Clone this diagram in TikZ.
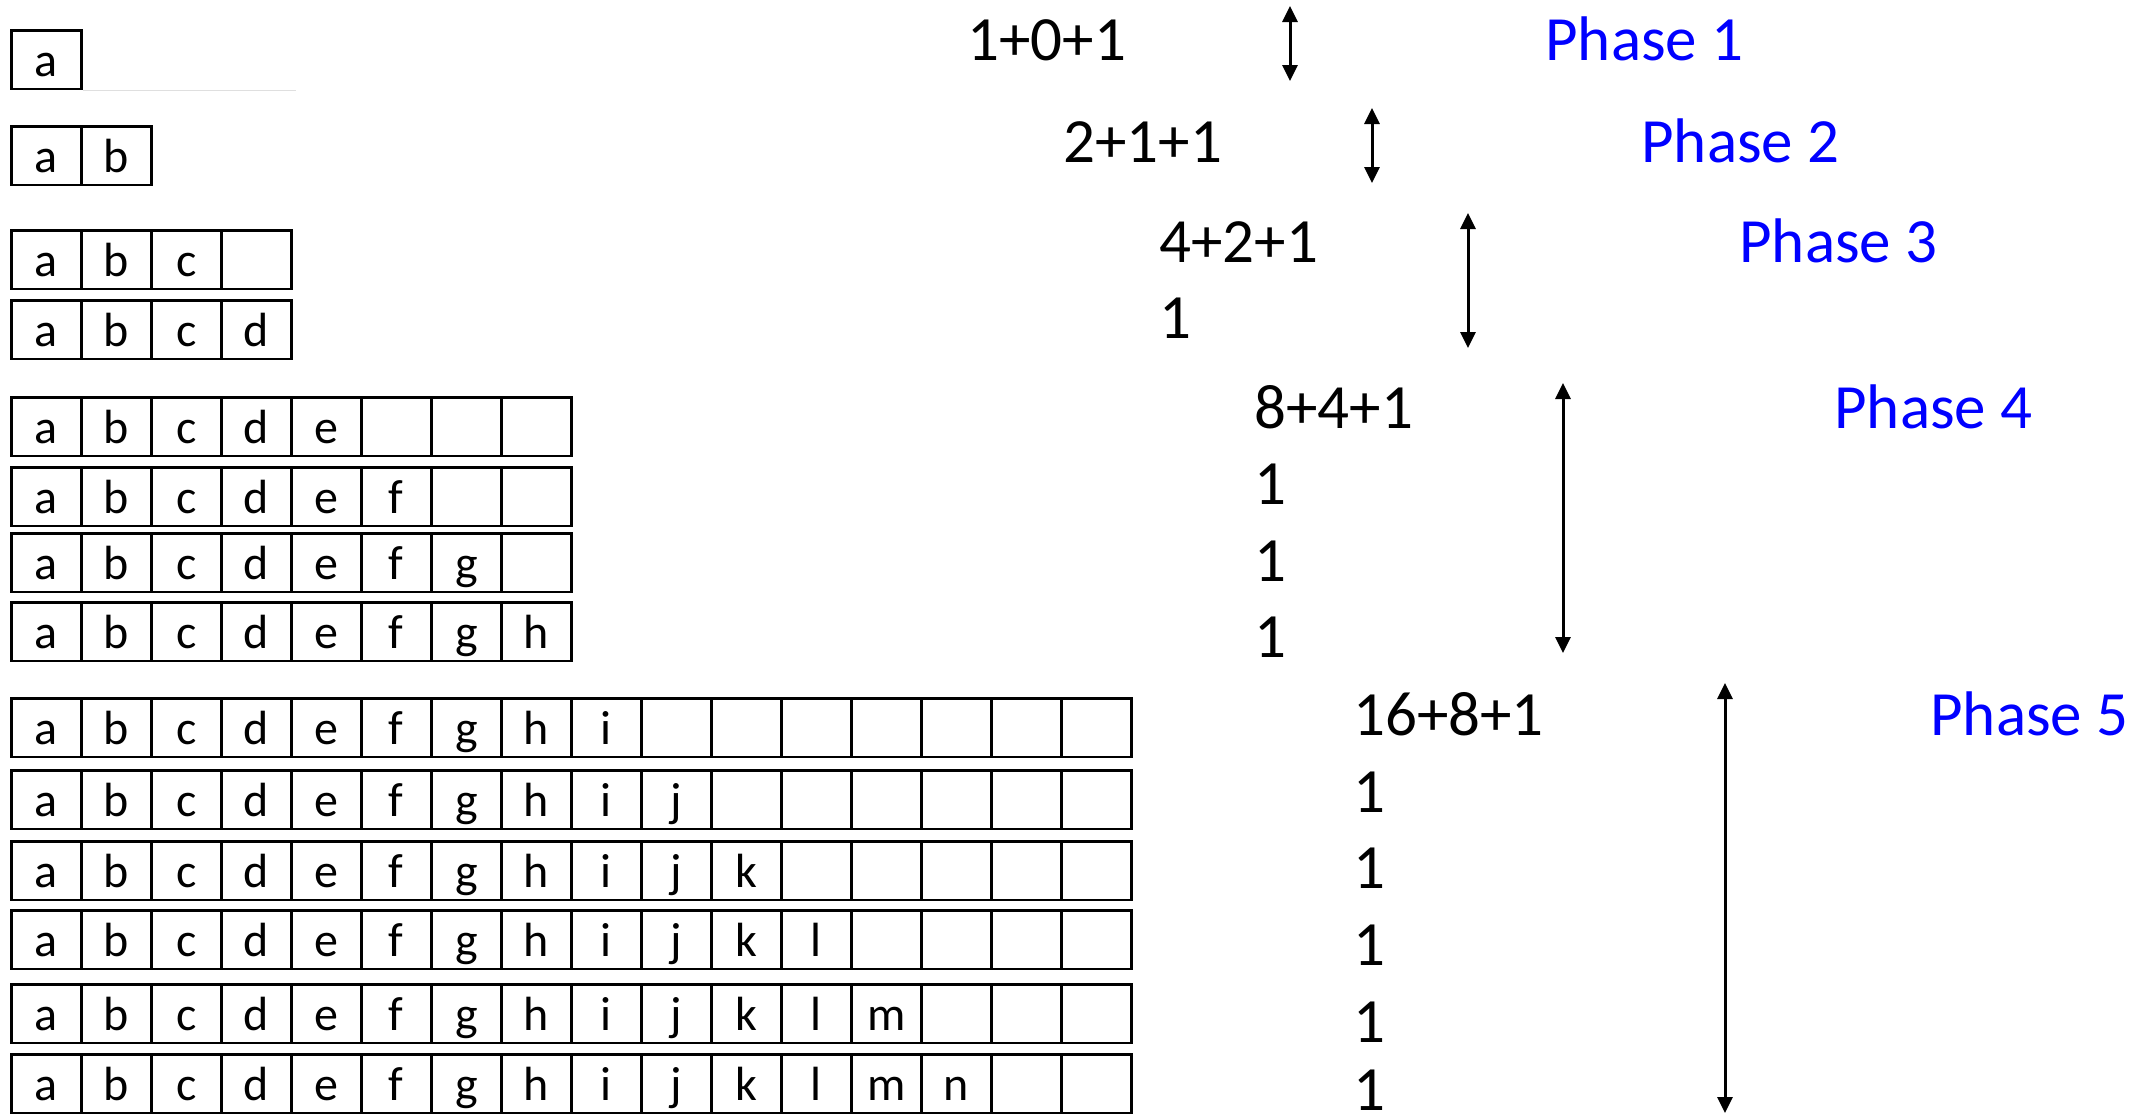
\documentclass[tikz,border=0pt]{standalone}
\usepackage{fontspec}
\setmainfont{Carlito}
\usetikzlibrary{arrows.meta}
\definecolor{phaseblue}{RGB}{0,0,255}
\begin{document}
\begin{tikzpicture}[x=0.5pt,y=-0.5pt,
  cell/.style={draw, line width=1.3pt, minimum width=35pt, minimum height=29.25pt,
    inner sep=0pt, text height=16.8pt, text depth=0pt,
    font=\fontsize{24}{28}\selectfont, anchor=north west},
  cnt/.style={anchor=base west, inner sep=0pt, font=\fontsize{31.5}{36}\selectfont},
  phase/.style={cnt, text=phaseblue},
  span/.style={{Triangle[width=7.5pt,length=8pt]}-{Triangle[width=7.5pt,length=8pt]}, line width=1.5pt}]
\useasboundingbox (0,0) rectangle (2141,1119);

% array rows
\foreach \r/\n/\k/\t in {1/1/1/29, 2/2/2/125, 3/4/3/229, 4/4/4/299,
    5/8/5/396, 6/8/6/466, 7/8/7/532, 8/8/8/601,
    9/16/9/697, 10/16/10/769, 11/16/11/840, 12/16/12/909, 13/16/13/983, 14/16/14/1053}
  \foreach \c in {1,...,\n}
    \node[cell] (r\r-\c) at ({10+70*(\c-1)},\t) {\ifnum\c>\k\relax\else\char\numexpr96+\c\relax\fi};

\draw[gray!25, line width=0.6pt] (r1-1.south east) -- ++(213,0);

% costs
\node[cnt] (p1a) at (967,60) {1+0+1};
\node[cnt] (p2a) at (1063,162) {2+1+1};
\node[cnt] (p3a) at (1159,262) {4+2+1};
\node[cnt] (p3b) at (1159,338) {1};
\node[cnt] (p4a) at (1254,428) {8+4+1};
\node[cnt] (p4b) at (1254,504) {1};
\node[cnt] (p4c) at (1254,581) {1};
\node[cnt] (p4d) at (1254,657) {1};
\node[cnt] (p5a) at (1353,735) {16+8+1};
\node[cnt] (p5b) at (1353,812) {1};
\node[cnt] (p5c) at (1353,888) {1};
\node[cnt] (p5d) at (1353,965) {1};
\node[cnt] (p5e) at (1353,1042) {1};
\node[cnt] (p5f) at (1353,1110) {1};

% phase labels
\node[phase] (ph1) at (1545,60) {Phase 1};
\node[phase] (ph2) at (1641,162) {Phase 2};
\node[phase] (ph3) at (1739,262) {Phase 3};
\node[phase] (ph4) at (1834,428) {Phase 4};
\node[phase] (ph5) at (1930,735) {Phase 5};

% span arrows
\coordinate (a1t) at (1290,6);   \coordinate (a1b) at (1290,81);
\coordinate (a2t) at (1372,108); \coordinate (a2b) at (1372,183);
\coordinate (a3t) at (1468,213); \coordinate (a3b) at (1468,348);
\coordinate (a4t) at (1563,383); \coordinate (a4b) at (1563,653);
\coordinate (a5t) at (1725,683); \coordinate (a5b) at (1725,1113);
\draw[span] (a1t) -- (a1b);
\draw[span] (a2t) -- (a2b);
\draw[span] (a3t) -- (a3b);
\draw[span] (a4t) -- (a4b);
\draw[span] (a5t) -- (a5b);
\end{tikzpicture}
\end{document}
